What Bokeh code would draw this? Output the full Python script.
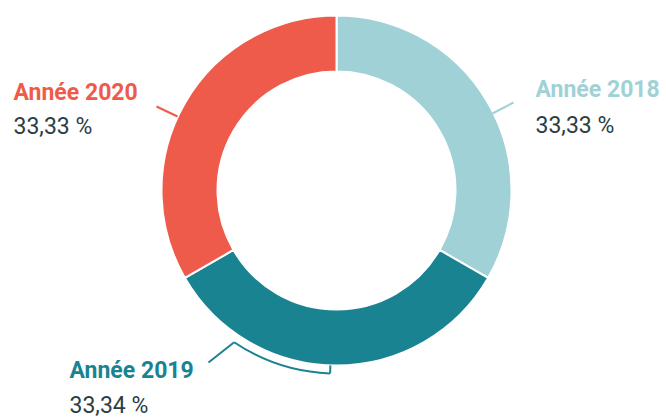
import math
from bokeh.plotting import figure
from bokeh.models import Range1d
from bokeh.core.properties import value
from bokeh.embed import file_html
from bokeh.resources import INLINE

categories = ["Année 2018", "Année 2019", "Année 2020"]
values = [33.33, 33.34, 33.33]
pct_labels = ["33,33 %", "33,34 %", "33,33 %"]
colors = ["#A0D1D6", "#1A8391", "#EF5B4A"]

W, H = 666, 418
p = figure(width=W, height=H, output_backend="svg", toolbar_location=None,
           x_range=Range1d(0, W), y_range=Range1d(-H, 0),
           min_border=0)
p.axis.visible = False
p.grid.visible = False
p.outline_line_color = None
p.background_fill_color = "white"

cx, cy = 336, -190
r_out, r_in = 175, 119
total = sum(values)
starts, ends = [], []
a = math.pi / 2
for v in values:
    starts.append(a)
    a = a - 2 * math.pi * v / total
    ends.append(a)

p.annular_wedge(x=[cx] * 3, y=[cy] * 3, inner_radius=r_in, outer_radius=r_out,
                start_angle=starts, end_angle=ends, direction="clock",
                fill_color=colors, line_color="white", line_width=2)

# leader lines
p.line([156, 177], [-106, -116], line_color=colors[2], line_width=2)
p.line([492, 513], [-113, -102], line_color=colors[0], line_width=2)
a0, a1 = math.radians(-124), math.radians(-92)
rb = 183
p.line([208, cx + rb * math.cos(a0)], [-362, cy + rb * math.sin(a0)],
       line_color=colors[1], line_width=2)
p.arc(x=[cx], y=[cy], radius=rb, start_angle=a0, end_angle=a1,
      line_color=colors[1], line_width=2)
p.line([cx + rb * math.cos(a1), cx + r_out * math.cos(a1)],
       [cy + rb * math.sin(a1), cy + r_out * math.sin(a1)],
       line_color=colors[1], line_width=2)

# labels
lx = [535, 69, 13]
ly = [89, 370, 92]
ly2 = [125, 405, 126]
p.text(x=lx, y=[-v for v in ly], text=categories, text_color=colors,
       text_font=value("Roboto"), text_font_style="bold",
       text_font_size="23px", text_baseline="alphabetic", text_align="left")
p.text(x=lx, y=[-v for v in ly2], text=pct_labels, text_color="#2C3E44",
       text_font=value("Roboto"), text_font_size="23px",
       text_baseline="alphabetic", text_align="left")

open("out.html", "w").write(file_html(p, INLINE))
